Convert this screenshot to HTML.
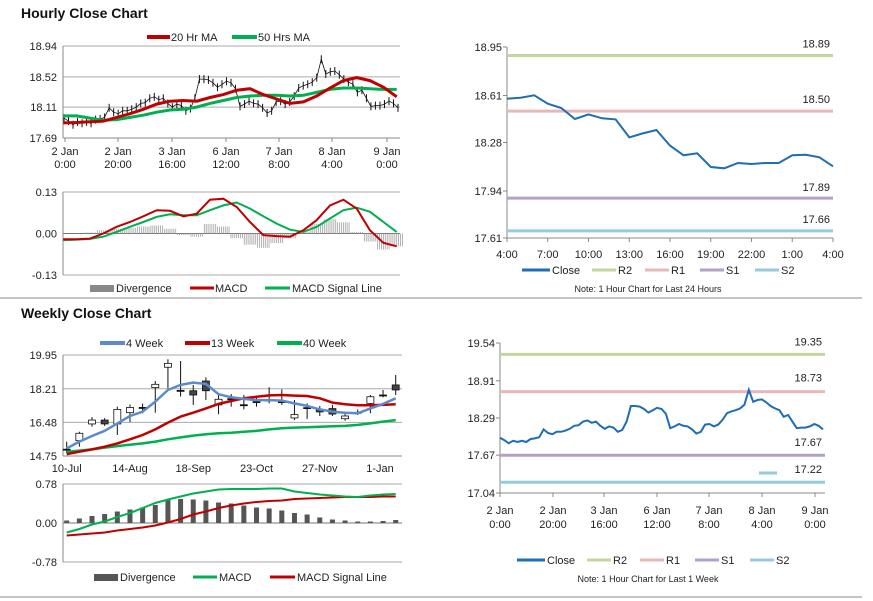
<!DOCTYPE html>
<html><head><meta charset="utf-8"><style>
html,body{margin:0;padding:0;background:#fff;}
svg{display:block;font-family:"Liberation Sans",Arial,sans-serif;}
.t{font-size:11px;fill:#222;}
.s{font-size:9px;fill:#222;}
.h{font-size:14px;font-weight:bold;fill:#111;}
</style></head><body>
<svg id="root" width="873" height="601" viewBox="0 0 873 601" xmlns="http://www.w3.org/2000/svg">
<text class="h" x="21" y="18">Hourly Close Chart</text>
<text class="h" x="21" y="318">Weekly Close Chart</text>
<line x1="0" y1="298" x2="862" y2="298" stroke="#888" stroke-width="1"/>
<line x1="0" y1="597" x2="862" y2="597" stroke="#888" stroke-width="1"/>
<g id="g1"></g>
<g id="g2"></g>
<g id="g3"></g>
<g id="g4"></g>
<g id="g5"></g>
<g id="g6"></g>
</svg>
<script>
// ---------- data ----------
const hourlyClose=[17.96,17.92,17.87,17.91,17.89,17.91,17.89,17.94,17.95,17.97,18.10,18.04,18.02,18.06,18.06,18.08,18.11,18.16,18.17,18.23,18.25,18.21,18.23,18.16,18.11,18.15,18.13,18.06,18.09,18.23,18.49,18.49,18.48,18.44,18.38,18.42,18.46,18.44,18.36,18.12,18.15,18.19,18.16,18.15,18.10,18.03,18.06,18.18,18.19,18.15,18.18,18.26,18.37,18.40,18.42,18.45,18.51,18.76,18.56,18.59,18.60,18.55,18.49,18.45,18.42,18.31,18.34,18.23,18.12,18.13,18.13,18.15,18.19,18.16,18.10];
const ma20=[17.895,17.90,17.91,17.92,17.97,18.02,18.08,18.15,18.19,18.20,18.19,18.24,18.28,18.34,18.36,18.28,18.22,18.16,18.18,18.26,18.37,18.47,18.51,18.47,18.38,18.25];
const ma50=[17.99,17.99,17.96,17.93,17.94,17.97,18.00,18.04,18.07,18.08,18.11,18.16,18.20,18.24,18.26,18.27,18.27,18.26,18.27,18.31,18.35,18.37,18.37,18.36,18.35,18.35];
const hMacd=[-0.018,-0.018,-0.016,0.000,0.021,0.036,0.054,0.073,0.071,0.054,0.062,0.106,0.109,0.083,0.036,-0.005,-0.008,-0.010,0.010,0.042,0.088,0.106,0.078,0.010,-0.029,-0.040];
const hSignal=[-0.021,-0.019,-0.017,-0.010,0.005,0.021,0.036,0.052,0.060,0.057,0.057,0.073,0.088,0.097,0.078,0.054,0.031,0.012,0.005,0.021,0.047,0.073,0.081,0.068,0.036,0.005];
const hDiv=[0,0,0.003,0.01,0.015,0.018,0.022,0.025,0.015,-0.005,-0.01,0.03,0.022,-0.015,-0.035,-0.045,-0.03,-0.015,0.005,0.03,0.045,0.035,0.005,-0.025,-0.05,-0.04];
const hTicks=["18.94","18.52","18.11","17.69"];
const hTickVals=[18.94,18.52,18.11,17.69];
const hCats=[["2 Jan","0:00"],["2 Jan","20:00"],["3 Jan","16:00"],["6 Jan","12:00"],["7 Jan","8:00"],["8 Jan","4:00"],["9 Jan","0:00"]];

const dayClose=[18.587,18.594,18.611,18.552,18.522,18.445,18.477,18.450,18.442,18.316,18.344,18.368,18.258,18.190,18.204,18.108,18.099,18.136,18.129,18.136,18.136,18.190,18.194,18.176,18.113];
const dayLevels=[18.89,18.50,17.89,17.66];
const dayTicks=[18.95,18.61,18.28,17.94,17.61];
const dayCats=["4:00","7:00","10:00","13:00","16:00","19:00","22:00","1:00","4:00"];

const wOpen=[15.1,15.54,16.40,16.60,16.40,16.98,17.25,18.27,19.32,18.13,18.11,18.61,17.38,17.70,17.39,17.55,17.63,17.55,16.71,17.24,17.15,17.19,16.67,17.0,17.46,17.89,18.41];
const wClose=[15.1,15.92,16.60,16.40,17.15,17.25,17.25,18.44,19.52,18.13,17.89,18.11,17.67,17.70,17.39,17.55,17.63,17.55,16.88,17.24,17.02,16.91,16.81,17.0,17.80,17.89,18.15];
const wHigh=[15.49,16.0,16.75,16.70,17.29,17.40,17.45,18.61,19.73,19.64,18.41,18.80,17.89,17.94,17.89,17.80,18.29,18.18,17.63,17.46,17.32,17.38,16.95,17.15,17.89,18.15,18.92];
const wLow=[14.89,15.23,16.26,16.30,15.83,16.50,16.95,16.98,18.23,17.81,17.38,17.63,16.90,17.29,17.15,17.29,17.46,17.38,16.60,16.66,16.81,16.81,16.57,16.86,16.95,17.77,17.89];
const wk4=[15.14,15.49,15.78,16.05,16.43,16.81,17.03,17.55,18.15,18.41,18.53,18.46,17.93,17.77,17.69,17.63,17.63,17.60,17.46,17.33,17.15,17.03,16.98,16.95,17.20,17.43,17.72];
const wk13=[14.85,14.97,15.09,15.23,15.40,15.61,15.83,16.12,16.47,16.78,16.98,17.20,17.43,17.58,17.72,17.80,17.87,17.89,17.86,17.84,17.72,17.50,17.41,17.36,17.36,17.38,17.41];
const wk40=[14.97,15.03,15.09,15.18,15.26,15.33,15.40,15.49,15.61,15.71,15.80,15.87,15.92,15.95,16.00,16.04,16.12,16.18,16.21,16.23,16.26,16.28,16.30,16.35,16.43,16.52,16.60];
const wMacd=[-0.19,-0.12,-0.03,0.03,0.12,0.20,0.30,0.40,0.47,0.53,0.59,0.63,0.67,0.68,0.68,0.68,0.69,0.69,0.63,0.60,0.57,0.55,0.53,0.52,0.55,0.57,0.58];
const wSignal=[-0.25,-0.23,-0.21,-0.19,-0.15,-0.12,-0.09,-0.05,0.01,0.08,0.17,0.23,0.30,0.35,0.39,0.42,0.44,0.45,0.48,0.49,0.50,0.51,0.52,0.52,0.52,0.53,0.53];
const wDiv=[0.05,0.09,0.14,0.18,0.23,0.27,0.31,0.36,0.47,0.48,0.47,0.45,0.41,0.39,0.35,0.31,0.29,0.25,0.20,0.17,0.11,0.07,0.05,0.03,0.03,0.04,0.06];
const wTicks=[19.95,18.21,16.48,14.75];
const wCats=["10-Jul","14-Aug","18-Sep","23-Oct","27-Nov","1-Jan"];
const wCatIdx=[0,5,10,15,20,25];
const wMacdTicks=[0.78,0,-0.78];

const weekLevels=[19.35,18.73,17.67,17.22];
const weekTicks=[19.54,18.91,18.29,17.67,17.04];

// ---------- helpers ----------
const NS="http://www.w3.org/2000/svg";
function mk(tag,parent){const e=document.createElementNS(NS,tag);parent.appendChild(e);return e;}
function at(e,o){for(const k in o)e.setAttribute(k,o[k]);return e;}
function lin(d0,d1,r0,r1){return v=>r0+(v-d0)/(d1-d0)*(r1-r0);}
function pathD(arr,xf,yf){return arr.map((v,i)=>(i?'L':'M')+xf(i).toFixed(1)+' '+yf(v).toFixed(1)).join(' ');}
function txt(parent,x,y,s,anchor,cls){const t=mk('text',parent);at(t,{x:x,y:y,'text-anchor':anchor||'start','class':cls||'t'});t.textContent=s;return t;}
const RED="#c00000",GRN="#00b050",BLUE="#1f6db3",R2C="#c3d69b",R1C="#e6b9b8",S1C="#b3a2c7",S2C="#93cddd",WBLUE="#5b8bc8";

// ---------- chart 1: hourly price ----------
(function(){
const g=document.getElementById('g1');
const X0=63,X1=400,yS=lin(18.94,17.69,46,138);
hTickVals.forEach((v,i)=>{
  const l=mk('line',g);at(l,{x1:X0,x2:X1,y1:yS(v),y2:yS(v),stroke:i==3?'#888':'#aaa','stroke-width':1});
  
  
  const t=txt(g,57,yS(v)+4,hTicks[i],'end');
  
  
});
const ax=mk('line',g);at(ax,{x1:X0,x2:X0,y1:46,y2:138,stroke:'#888'});


const cx=[65,118,172,226,279,332,387];
hCats.forEach((c,i)=>{
  const tk=mk('line',g);at(tk,{x1:cx[i],x2:cx[i],y1:138,y2:142,stroke:'#888'});
  
  
  const a=txt(g,cx[i],155,c[0],'middle');
  
  const b=txt(g,cx[i],168,c[1],'middle');
  
});
const xb=lin(0,hourlyClose.length-1,64,398);
const cl=mk('path',g);at(cl,{d:pathD(hourlyClose,xb,yS),fill:'none',stroke:'#111','stroke-width':0.8});


hourlyClose.forEach((v,i)=>{
  const b=mk('line',g);at(b,{x1:xb(i),x2:xb(i),y1:yS(v)-4,y2:yS(v)+4,stroke:'#111','stroke-width':1});
  
  
});
const xm=lin(0,ma20.length-1,63.3,396.7);
const m2=mk('path',g);at(m2,{d:pathD(ma50,xm,yS),fill:'none',stroke:GRN,'stroke-width':3});


const m1=mk('path',g);at(m1,{d:pathD(ma20,xm,yS),fill:'none',stroke:RED,'stroke-width':3});


// legend
const l1=mk('line',g);at(l1,{x1:147,x2:170,y1:37,y2:37,stroke:RED,'stroke-width':4});


const lt1=txt(g,171,41,'20 Hr MA');

const l2=mk('line',g);at(l2,{x1:232,x2:257,y1:37,y2:37,stroke:GRN,'stroke-width':4});


const lt2=txt(g,258,41,'50 Hrs MA');

})();

// ---------- chart 2: hourly MACD ----------
(function(){
const g=document.getElementById('g2');
const X0=63,X1=400,yS=lin(0.13,-0.13,192,275);
[["0.13",0.13],["0.00",0],["-0.13",-0.13]].forEach(([s,v],i)=>{
  const l=mk('line',g);at(l,{x1:X0,x2:X1,y1:yS(v),y2:yS(v),stroke:i==1?'#777':'#aaa'});
  
  
  const t=txt(g,57,yS(v)+4,s,'end');
  
});
const ax=mk('line',g);at(ax,{x1:X0,x2:X0,y1:192,y2:275,stroke:'#888'});


const xm=lin(0,hDiv.length-1,63.3,396.7);
const bw=(396.7-63.3)/(hDiv.length-1);
hDiv.forEach((v,i)=>{
  for(let k=-3;k<=3;k++){
    const b=mk('line',g);const x=xm(i)+k*bw/7;
    at(b,{x1:x,x2:x,y1:yS(0),y2:yS(v),stroke:'#a0a0a0','stroke-width':0.8});
    
    
  }
});
const s=mk('path',g);at(s,{d:pathD(hSignal,xm,yS),fill:'none',stroke:GRN,'stroke-width':2});


const m=mk('path',g);at(m,{d:pathD(hMacd,xm,yS),fill:'none',stroke:RED,'stroke-width':2});


const r=mk('rect',g);at(r,{x:90,y:285,width:24,height:7,fill:'#888'});


const t1=txt(g,116,292,'Divergence');

const l1=mk('line',g);at(l1,{x1:190,x2:214,y1:288,y2:288,stroke:RED,'stroke-width':3});


const t2=txt(g,215,292,'MACD');

const l2=mk('line',g);at(l2,{x1:265,x2:290,y1:288,y2:288,stroke:GRN,'stroke-width':3});


const t3=txt(g,292,292,'MACD Signal Line');

})();

// pivot chart builder
function pivot(g,cfg){
  const yS=lin(cfg.dTop,cfg.dBot,cfg.yTop,cfg.yBot);
  const ax=mk('path',g);at(ax,{d:`M${cfg.x0} ${cfg.yTop}V${cfg.yBot}H${cfg.x1}`,fill:'none',stroke:'#888'});
  
  
  cfg.ticks.forEach(v=>{
    const tk=mk('line',g);at(tk,{x1:cfg.x0-4,x2:cfg.x0,y1:yS(v),y2:yS(v),stroke:'#888'});
    
    
    const t=txt(g,cfg.x0-5,yS(v)+4,v.toFixed(2),'end','t');
    
    
  });
  const cols=[R2C,R1C,S1C,S2C],names=['r2','r1','s1','s2'];
  cfg.levels.forEach((v,i)=>{
    const l=mk('line',g);at(l,{x1:cfg.x0,x2:cfg.x1,y1:yS(v),y2:yS(v),stroke:cols[i],'stroke-width':3});
    
    
    const t=txt(g,cfg.x1-3,yS(v)-cfg.lblOff[i],v.toFixed(2),'end','t');
    
    
  });
  const xS=lin(0,cfg.close.length-1,cfg.x0,cfg.cx1);
  const p=mk('path',g);at(p,{d:pathD(cfg.close,xS,yS),fill:'none',stroke:BLUE,'stroke-width':2});
  
  
  // legend
  const lx=cfg.legX,ly=cfg.legY,items=[['Close',BLUE],['R2',R2C],['R1',R1C],['S1',S1C],['S2',S2C]];
  const offs=[0,70,123,178,233];
  items.forEach((it,i)=>{
    const x=lx+offs[i];
    const l=mk('line',g);at(l,{x1:x,x2:x+(i?24:28),y1:ly,y2:ly,stroke:it[1],'stroke-width':3});
    
    
    const t=txt(g,x+(i?26:30),ly+4,it[0]);
    
    
  });
  const n=txt(g,cfg.noteX,cfg.legY+22,cfg.note,'middle','s');
  
  
  return {yS:yS};
}

// ---------- chart 3 ----------
(function(){
const g=document.getElementById('g3');
pivot(g,{x0:507,x1:833,cx1:833,dTop:18.95,dBot:17.61,yTop:47,yBot:238,ticks:dayTicks,levels:dayLevels,lblOff:[8,8,7,8],close:dayClose,legX:522,legY:270,noteX:648,note:'Note: 1 Hour Chart for Last 24 Hours'});
const xS=lin(0,dayCats.length-1,507,833);
dayCats.forEach((c,i)=>{
  const tk=mk('line',g);at(tk,{x1:xS(i),x2:xS(i),y1:238,y2:242,stroke:'#888'});
  
  
  const t=txt(g,xS(i),258,c,'middle');
  
  
});
})();

// ---------- chart 6 ----------
(function(){
const g=document.getElementById('g6');
pivot(g,{x0:500,x1:825,cx1:823,dTop:19.54,dBot:17.04,yTop:343,yBot:493,ticks:weekTicks,levels:weekLevels,lblOff:[9,10,9,9],close:hourlyClose,legX:517,legY:560,noteX:648,note:'Note: 1 Hour Chart for Last 1 Week'});
const sw=mk('line',g);at(sw,{x1:759,x2:777,y1:473,y2:473,stroke:S2C,'stroke-width':3});


const cx=[500,553,604,657,709,762,815];
hCats.forEach((c,i)=>{
  const tk=mk('line',g);at(tk,{x1:cx[i],x2:cx[i],y1:493,y2:497,stroke:'#888'});
  
  
  const a=txt(g,cx[i],514,c[0],'middle');
  
  const b=txt(g,cx[i],528,c[1],'middle');
  
});
})();

// ---------- chart 4: weekly price ----------
(function(){
const g=document.getElementById('g4');
const X0=63,X1=402,yS=lin(19.95,14.75,355,456);
wTicks.forEach((v,i)=>{
  const l=mk('line',g);at(l,{x1:X0,x2:X1,y1:yS(v),y2:yS(v),stroke:i==3?'#888':'#aaa'});
  
  
  const t=txt(g,57,yS(v)+4,v.toFixed(2),'end');
  
  
});
const ax=mk('line',g);at(ax,{x1:X0,x2:X0,y1:355,y2:456,stroke:'#888'});


const xS=lin(0,wOpen.length-1,66.7,395.7);
wCats.forEach((c,i)=>{
  const t=txt(g,xS(wCatIdx[i])+(i==5?-3:0),472,c,'middle');
  
  
});
wOpen.forEach((o,i)=>{
  const c=wClose[i],x=xS(i);
  const w=mk('line',g);at(w,{x1:x,x2:x,y1:yS(wHigh[i]),y2:yS(wLow[i]),stroke:'#111','stroke-width':1});
  
  
  const top=yS(Math.max(o,c)),bot=yS(Math.min(o,c));
  const b=mk('rect',g);at(b,{x:x-3.5,y:top,width:7,height:Math.max(1,bot-top),fill:c>o?'#fff':(c<o?'#444':'#111'),stroke:'#111','stroke-width':0.8});
  
  
});
[[wk40,GRN,'ma40-week-line'],[wk13,RED,'ma13-week-line'],[wk4,WBLUE,'ma4-week-line']].forEach(([arr,col,nm])=>{
  const p=mk('path',g);at(p,{d:pathD(arr,xS,yS),fill:'none',stroke:col,'stroke-width':2.5,'stroke-linejoin':'round'});
  
  
});
const leg=[[100,'4 Week',WBLUE],[185,'13 Week',RED],[277,'40 Week',GRN]];
leg.forEach(([x,s,c])=>{
  const l=mk('line',g);at(l,{x1:x,x2:x+25,y1:343,y2:343,stroke:c,'stroke-width':4});
  
  
  const t=txt(g,x+26,347,s);
  
  
});
})();

// ---------- chart 5: weekly MACD ----------
(function(){
const g=document.getElementById('g5');
const X0=63,X1=402,yS=lin(0.78,-0.78,484,562);
wMacdTicks.forEach((v,i)=>{
  const l=mk('line',g);at(l,{x1:X0,x2:X1,y1:yS(v),y2:yS(v),stroke:i==1?'#777':'#aaa'});
  
  
  const t=txt(g,57,yS(v)+4,v.toFixed(2),'end');
  
  
});
const ax=mk('line',g);at(ax,{x1:X0,x2:X0,y1:484,y2:562,stroke:'#888'});


const xS=lin(0,wDiv.length-1,66.7,395.7);
wDiv.forEach((v,i)=>{
  const b=mk('rect',g);at(b,{x:xS(i)-2.5,y:Math.min(yS(v),yS(0)),width:5,height:Math.abs(yS(v)-yS(0)),fill:'#555'});
  
  
});
const s=mk('path',g);at(s,{d:pathD(wSignal,xS,yS),fill:'none',stroke:RED,'stroke-width':2});


const m=mk('path',g);at(m,{d:pathD(wMacd,xS,yS),fill:'none',stroke:GRN,'stroke-width':2});


const r=mk('rect',g);at(r,{x:94,y:574,width:24,height:7,fill:'#555'});


const t1=txt(g,120,581,'Divergence');

const l1=mk('line',g);at(l1,{x1:193,x2:217,y1:577,y2:577,stroke:GRN,'stroke-width':3});


const t2=txt(g,219,581,'MACD');

const l2=mk('line',g);at(l2,{x1:270,x2:295,y1:577,y2:577,stroke:RED,'stroke-width':3});


const t3=txt(g,297,581,'MACD Signal Line');

})();
</script>
</body></html>
